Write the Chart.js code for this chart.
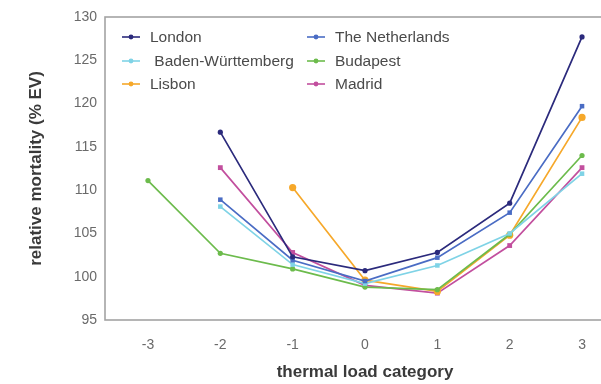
<!DOCTYPE html>
<html>
<head>
<meta charset="utf-8">
<script src="https://cdn.jsdelivr.net/npm/chart.js@4.4.0/dist/chart.umd.min.js"></script>
<style>
html,body{margin:0;padding:0;background:#fff;overflow:hidden;}
#wrap{width:601px;height:384px;overflow:hidden;position:relative;}
#c{position:absolute;left:0;top:0;}
</style>
</head>
<body>
<div id="wrap"><canvas id="c" width="650" height="384"></canvas></div>
<script>
const categories = [-3, -2, -1, 0, 1, 2, 3];
const yTicks = [95, 100, 105, 110, 115, 120, 125, 130];
const seriesNames = ["London", "The Netherlands", " Baden-Württemberg", "Budapest", "Lisbon", "Madrid"];
const london      = [null, 116.7, 102.3, 100.7, 102.8, 108.5, 127.7];
const netherlands = [null, 108.9, 101.9,  99.5, 102.2, 107.4, 119.7];
const baden       = [null, 108.1, 101.4,  99.2, 101.3, 105.0, 111.9];
const budapest    = [111.1, 102.7, 100.9, 98.8,  98.5, 104.9, 114.0];
const lisbon      = [null, null, 110.3,  99.6,  98.3, 104.8, 118.4];
const madrid      = [null, 112.6, 102.8,  99.0,  98.1, 103.6, 112.6];

const seriesValues = [london, netherlands, baden, budapest, lisbon, madrid];
const colors = ["#2b2a7c", "#4a6cc4", "#7fd3e6", "#6cbb4c", "#f6a82a", "#c24f9e"];
const markers = ["circle", "rect", "rect", "circle", "circle", "rect"];
const radii = [2.6, 3.2, 3.2, 2.6, 3.6, 3.4];
const FONT = '"Liberation Sans", Arial, sans-serif';

const datasets = seriesValues.map((vals, i) => ({
  label: seriesNames[i],
  data: categories.map((c, j) => ({x: c, y: vals[j]})),
  borderColor: colors[i],
  backgroundColor: colors[i],
  borderWidth: 1.7,
  pointStyle: markers[i],
  pointRadius: radii[i],
  pointBorderWidth: 0,
  pointBackgroundColor: colors[i],
  tension: 0,
  spanGaps: false
}));

const boxPlugin = {
  id: 'box',
  afterDraw(chart) {
    const {ctx, chartArea: a} = chart;
    ctx.save();
    ctx.strokeStyle = '#a3a3a3';
    ctx.lineWidth = 1.6;
    ctx.strokeRect(a.left, a.top, a.right - a.left, a.bottom - a.top);
    ctx.restore();
  }
};

const legendPlugin = {
  id: 'innerLegend',
  afterDraw(chart) {
    const {ctx, chartArea: a} = chart;
    const colX = [a.left + 17, a.left + 202];
    const rowY = [a.top + 20, a.top + 44, a.top + 67];
    ctx.save();
    ctx.font = '15.5px ' + FONT;
    ctx.textBaseline = 'middle';
    ctx.textAlign = 'left';
    chart.data.datasets.forEach((ds, i) => {
      const cx = colX[i % 2], cy = rowY[Math.floor(i / 2)];
      ctx.strokeStyle = ds.borderColor;
      ctx.lineWidth = 1.6;
      ctx.beginPath();
      ctx.moveTo(cx, cy);
      ctx.lineTo(cx + 18, cy);
      ctx.stroke();
      ctx.fillStyle = ds.borderColor;
      ctx.beginPath();
      ctx.arc(cx + 9, cy, 2.4, 0, Math.PI * 2);
      ctx.fill();
      ctx.fillStyle = '#4a4a4a';
      ctx.fillText(ds.label, cx + 28, cy + 0.5);
    });
    ctx.restore();
  }
};

new Chart(document.getElementById('c'), {
  type: 'line',
  data: { datasets },
  plugins: [boxPlugin, legendPlugin],
  options: {
    responsive: false,
    animation: false,
    layout: { padding: { left: 0, right: 25, top: 17, bottom: 0 } },
    plugins: { legend: { display: false }, tooltip: { enabled: false } },
    scales: {
      x: {
        type: 'linear',
        min: -3.594,
        max: 3.594,
        afterBuildTicks(s) { s.ticks = categories.map(v => ({value: v})); },
        afterFit(s) { s.height = 64; },
        grid: { display: false, drawTicks: false },
        border: { display: false },
        ticks: {
          padding: 17,
          color: '#6a6a6a',
          font: { size: 14, family: FONT },
          callback: v => String(v)
        },
        title: {
          display: true,
          text: 'thermal load category',
          color: '#3a3a3a',
          font: { size: 17, weight: 'bold', family: FONT },
          padding: { top: 1, bottom: 1 }
        }
      },
      y: {
        min: 95,
        max: 130,
        afterBuildTicks(s) { s.ticks = yTicks.map(v => ({value: v})); },
        afterFit(s) { s.width = 105; },
        grid: { display: false, drawTicks: false },
        border: { display: false },
        ticks: {
          padding: 8,
          color: '#6a6a6a',
          font: { size: 14, family: FONT }
        },
        title: {
          display: true,
          text: 'relative mortality (% EV)',
          color: '#3a3a3a',
          font: { size: 17, weight: 'bold', family: FONT },
          padding: { top: 26, bottom: 26 }
        }
      }
    }
  }
});
</script>
</body>
</html>
